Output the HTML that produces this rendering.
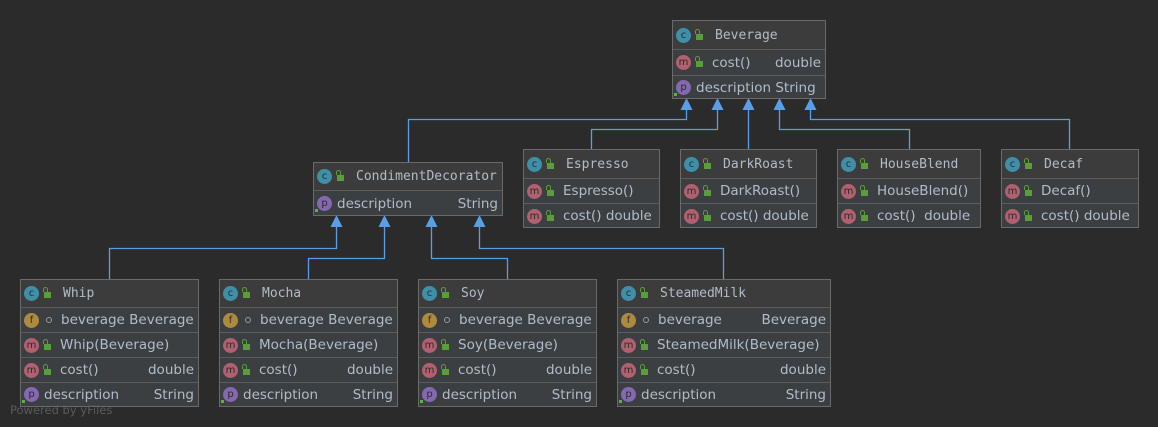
<!DOCTYPE html>
<html><head><meta charset="utf-8"><style>
body{margin:0;width:1158px;height:427px;background:#2b2b2b;position:relative;overflow:hidden;font-family:"DejaVu Sans","Liberation Sans",sans-serif;}
.b{position:absolute;box-sizing:border-box;border:1px solid #6a6a6a;background:#3c3f41;color:#b0bcc9;}
.h{height:27px;background:#3c3c3c;display:flex;align-items:center;padding-left:3px;font-family:"DejaVu Sans Mono","Liberation Mono",monospace;font-size:13px;}
.r{height:25px;border-top:1px solid #5c5c5c;box-sizing:border-box;display:flex;align-items:center;padding:0 4px 0 3px;font-size:13.5px;white-space:nowrap;}
.r .t{margin-left:auto;}
.i{width:15px;height:15px;border-radius:50%;display:inline-flex;align-items:center;justify-content:center;font-size:10px;color:#2b2b2b;font-family:"DejaVu Sans",sans-serif;position:relative;flex:none;}
.c{background:#3f8fa8;} .m{background:#b0606e;} .f{background:#b08a3c;} .p{background:#8468b0;}
.p:after{content:"";position:absolute;left:-2px;bottom:-1px;width:3px;height:3px;background:#5fb043;}
.l{width:7px;height:6px;background:#5a9e3a;margin:3px 9px 0 5px;position:relative;flex:none;}
.l:before{content:"";position:absolute;left:-1px;top:-5px;width:3px;height:4px;border:1px solid #5a9e3a;border-bottom:none;border-radius:3px 3px 0 0;}
.o{width:4px;height:4px;border:1px solid #999;border-radius:50%;margin:0 9px 0 7px;flex:none;}
.sp{width:6px;flex:none;}
.h .l{margin-right:12px;}
</style></head><body>
<svg width="1158" height="427" style="position:absolute;left:0;top:0">
<g stroke="#5a9ee8" stroke-width="1.3" fill="none">
<path d="M408.5 162V119.5H686.5V108"/>
<path d="M591.5 149V129.5H717.5V108"/>
<path d="M748.5 149V108"/>
<path d="M909.5 149V129.5H779.5V108"/>
<path d="M1069.5 149V119.5H810.5V108"/>
<path d="M109.5 279V248.5H336.5V225"/>
<path d="M308.5 279V258.5H384.5V225"/>
<path d="M507.5 279V258.5H431.5V225"/>
<path d="M723.5 279V248.5H479.5V225"/>
</g>
<g fill="#5a9ee8">
<path d="M686.5 98l-6 12h12z"/><path d="M717.5 98l-6 12h12z"/><path d="M748.5 98l-6 12h12z"/><path d="M779.5 98l-6 12h12z"/><path d="M810.5 98l-6 12h12z"/>
<path d="M336.5 215l-6 12h12z"/><path d="M384.5 215l-6 12h12z"/><path d="M431.5 215l-6 12h12z"/><path d="M479.5 215l-6 12h12z"/>
</g>
</svg>

<div class="b" style="left:672px;top:20px;width:154px;height:79px">
<div class="h" style="height:28px"><span class="i c">c</span><span class="l"></span>Beverage</div>
<div class="r" style="height:26px"><span class="i m">m</span><span class="l"></span>cost()<span class="t">double</span></div>
<div class="r" style="height:24px"><span class="i p">p</span><span class="sp" style="width:5px"></span>description String</div>
</div>

<div class="b" style="left:313px;top:162px;width:190px;height:54px">
<div class="h" style="height:27px"><span class="i c">c</span><span class="l"></span>CondimentDecorator</div>
<div class="r" style="height:26px"><span class="i p">p</span><span class="sp" style="width:5px"></span>description<span class="t">String</span></div>
</div>

<div class="b" style="left:523px;top:149px;width:137px;height:79px">
<div class="h" style="height:28px"><span class="i c">c</span><span class="l"></span>Espresso</div>
<div class="r"><span class="i m">m</span><span class="l"></span>Espresso()</div>
<div class="r"><span class="i m">m</span><span class="l"></span>cost() double</div>
</div>
<div class="b" style="left:680px;top:149px;width:137px;height:79px">
<div class="h" style="height:28px"><span class="i c">c</span><span class="l"></span>DarkRoast</div>
<div class="r"><span class="i m">m</span><span class="l"></span>DarkRoast()</div>
<div class="r"><span class="i m">m</span><span class="l"></span>cost() double</div>
</div>
<div class="b" style="left:837px;top:149px;width:144px;height:79px">
<div class="h" style="height:28px"><span class="i c">c</span><span class="l"></span>HouseBlend</div>
<div class="r"><span class="i m">m</span><span class="l"></span>HouseBlend()</div>
<div class="r"><span class="i m">m</span><span class="l"></span>cost()&nbsp;&nbsp;double</div>
</div>
<div class="b" style="left:1001px;top:149px;width:138px;height:79px">
<div class="h" style="height:28px"><span class="i c">c</span><span class="l"></span>Decaf</div>
<div class="r"><span class="i m">m</span><span class="l"></span>Decaf()</div>
<div class="r"><span class="i m">m</span><span class="l"></span>cost() double</div>
</div>

<div class="b" style="left:20px;top:279px;width:179px;height:128px">
<div class="h"><span class="i c">c</span><span class="l"></span>Whip</div>
<div class="r"><span class="i f">f</span><span class="o"></span>beverage Beverage</div>
<div class="r"><span class="i m">m</span><span class="l"></span>Whip(Beverage)</div>
<div class="r"><span class="i m">m</span><span class="l"></span>cost()<span class="t">double</span></div>
<div class="r" style="height:24px"><span class="i p">p</span><span class="sp" style="width:5px"></span>description<span class="t">String</span></div>
</div>
<div class="b" style="left:219px;top:279px;width:179px;height:128px">
<div class="h"><span class="i c">c</span><span class="l"></span>Mocha</div>
<div class="r"><span class="i f">f</span><span class="o"></span>beverage Beverage</div>
<div class="r"><span class="i m">m</span><span class="l"></span>Mocha(Beverage)</div>
<div class="r"><span class="i m">m</span><span class="l"></span>cost()<span class="t">double</span></div>
<div class="r" style="height:24px"><span class="i p">p</span><span class="sp" style="width:5px"></span>description<span class="t">String</span></div>
</div>
<div class="b" style="left:418px;top:279px;width:179px;height:128px">
<div class="h"><span class="i c">c</span><span class="l"></span>Soy</div>
<div class="r"><span class="i f">f</span><span class="o"></span>beverage Beverage</div>
<div class="r"><span class="i m">m</span><span class="l"></span>Soy(Beverage)</div>
<div class="r"><span class="i m">m</span><span class="l"></span>cost()<span class="t">double</span></div>
<div class="r" style="height:24px"><span class="i p">p</span><span class="sp" style="width:5px"></span>description<span class="t">String</span></div>
</div>
<div class="b" style="left:617px;top:279px;width:214px;height:128px">
<div class="h"><span class="i c">c</span><span class="l"></span>SteamedMilk</div>
<div class="r"><span class="i f">f</span><span class="o"></span>beverage<span class="t">Beverage</span></div>
<div class="r"><span class="i m">m</span><span class="l"></span>SteamedMilk(Beverage)</div>
<div class="r"><span class="i m">m</span><span class="l"></span>cost()<span class="t">double</span></div>
<div class="r" style="height:24px"><span class="i p">p</span><span class="sp" style="width:5px"></span>description<span class="t">String</span></div>
</div>

<div style="position:absolute;left:10px;top:403px;font-size:11.5px;color:#5a5a5a;font-family:'DejaVu Sans',sans-serif">Powered by yFiles</div>
</body></html>
